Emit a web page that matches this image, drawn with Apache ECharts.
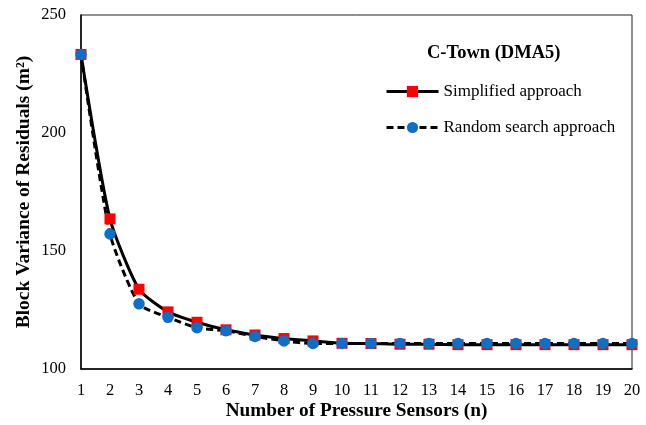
<!DOCTYPE html>
<html><head><meta charset="utf-8">
<script src="https://cdn.jsdelivr.net/npm/echarts@6/dist/echarts.min.js"></script>
<style>html,body{margin:0;padding:0;background:#fff}#c{width:646px;height:425px}</style>
</head><body><div id="c"></div>
<script>
const sensors = [1,2,3,4,5,6,7,8,9,10,11,12,13,14,15,16,17,18,19,20];
const simplified = [233.3,163.6,133.8,124.2,119.8,116.6,114.4,112.9,111.9,110.9,110.8,110.5,110.5,110.3,110.3,110.3,110.3,110.3,110.3,110.3];
const randomSearch = [233.3,157.2,127.6,121.9,117.5,116.2,113.8,111.9,110.8,110.8,110.8,110.8,110.8,110.8,110.8,110.8,110.8,110.8,110.8,110.8];
const yTicks = [100,150,200,250];
const serif = '"Liberation Serif","Times New Roman",serif';

const chart = echarts.init(document.getElementById('c'), null, {renderer:'canvas'});
chart.setOption({
  backgroundColor:'#fff',
  animation:false,
  title:{text:'C-Town (DMA5)', left:422, top:39, textStyle:{fontFamily:serif, fontWeight:'bold', fontSize:18.5, color:'#000'}},
  legend:{
    orient:'vertical', left:380, top:78, itemWidth:52, itemHeight:14, itemGap:19,
    lineStyle:{width:3},
    textStyle:{fontFamily:serif, fontSize:17, color:'#000'},
    data:['Simplified approach','Random search approach']
  },
  grid:{left:81, right:14, top:15, bottom:56, show:true, borderColor:'#222', borderWidth:1,
        outerBoundsMode:'none', containLabel:false},
  xAxis:{
    type:'value', min:1, max:20, interval:1,
    name:'Number of Pressure Sensors (n)', nameLocation:'middle', nameGap:33, nameMoveOverlap:false,
    nameTextStyle:{fontFamily:serif, fontWeight:'bold', fontSize:19.3, color:'#000'},
    axisLine:{lineStyle:{color:'#000', width:1.5}}, axisTick:{show:false}, splitLine:{show:false},
    axisLabel:{fontFamily:serif, fontSize:16.5, color:'#000', margin:13}
  },
  yAxis:{
    type:'value', min:100, max:250, interval:50,
    name:'Block Variance of Residuals (m²)', nameLocation:'middle', nameGap:47, nameMoveOverlap:false,
    nameTextStyle:{fontFamily:serif, fontWeight:'bold', fontSize:19.5, color:'#000'},
    axisLine:{show:true, lineStyle:{color:'#000', width:1.5}}, axisTick:{show:false}, splitLine:{show:false},
    axisLabel:{fontFamily:serif, fontSize:16.5, color:'#000', margin:15,
      formatter:v=>yTicks.includes(v)?String(v):''}
  },
  series:[
    {name:'Simplified approach', type:'line', smooth:0.2,
     data:sensors.map((x,i)=>[x,simplified[i]]),
     symbol:'rect', symbolSize:11,
     itemStyle:{color:'#FF0000'}, lineStyle:{color:'#000', width:3, type:'solid'}},
    {name:'Random search approach', type:'line', smooth:0.2,
     data:sensors.map((x,i)=>[x,randomSearch[i]]),
     symbol:'circle', symbolSize:11.5,
     itemStyle:{color:'#0F6FC6'}, lineStyle:{color:'#000', width:3, type:[7,4]}}
  ]
});
</script></body></html>
